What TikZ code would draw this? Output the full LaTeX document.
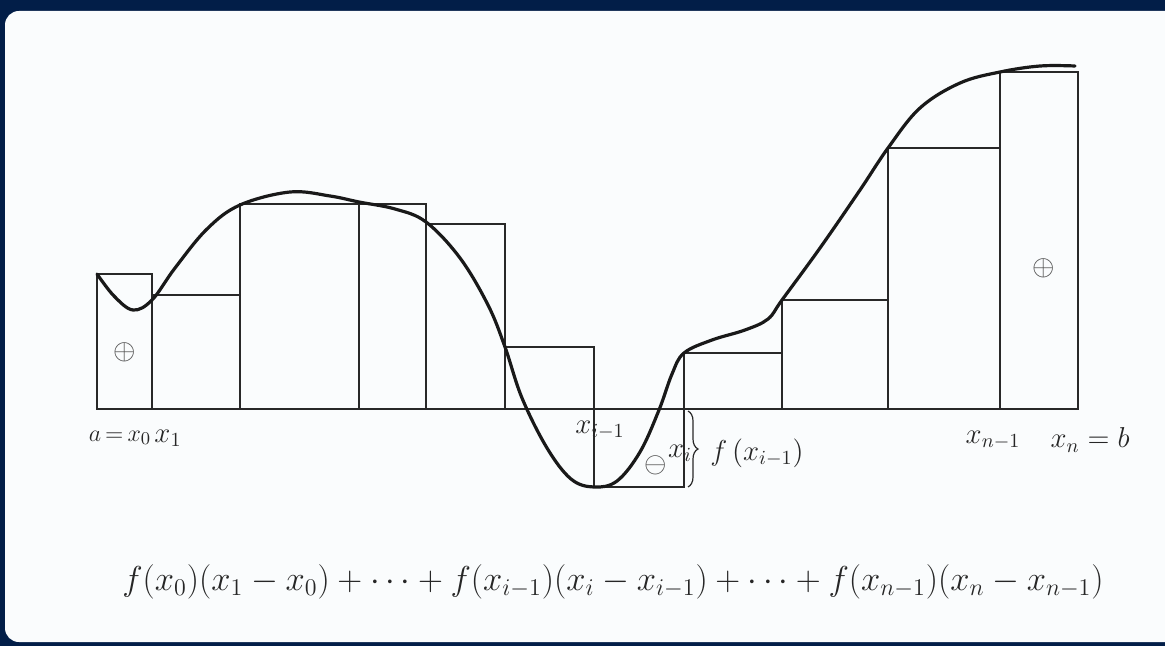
\documentclass[tikz,border=0pt]{standalone}
\usetikzlibrary{decorations.pathreplacing}
\definecolor{navy}{RGB}{2,30,72}
\definecolor{paper}{RGB}{250,252,253}
\definecolor{ink}{RGB}{40,40,40}
\begin{document}
\begin{tikzpicture}[x=0.5pt,y=-0.5pt,
  bar/.style={draw=ink,line width=0.7pt},
  curve/.style={draw=black!90,line width=1.6pt,line cap=round,line join=round},
  lbl/.style={inner sep=0pt,font=\fontsize{14}{16}\selectfont,text=black!85},
  sign/.style={inner sep=0pt,font=\fontsize{14}{16}\selectfont,text=black!70}]
\useasboundingbox (0,0) rectangle (1165,646);
\fill[navy] (0,0) rectangle (1165,646);
\fill[paper,rounded corners=7pt] (5,11) rectangle (1190,642);
% rectangles of the Riemann sum
\draw[bar] (97,409) rectangle (152,274);
\draw[bar] (152,409) rectangle (240,295);
\draw[bar] (240,409) rectangle (359,204);
\draw[bar] (359,409) rectangle (426,204);
\draw[bar] (426,409) rectangle (505,224);
\draw[bar] (505,409) rectangle (594,347);
\draw[bar] (594,409) rectangle (684,487);
\draw[bar] (684,409) rectangle (782,353);
\draw[bar] (782,409) rectangle (888,300);
\draw[bar] (888,409) rectangle (1000,148);
\draw[bar] (1000,409) rectangle (1078,72);
% the function
\draw[curve] plot[smooth,tension=0.6] coordinates {
 (97,274) (114,296) (133,310) (152,300) (175,268) (207,229) (240,205)
 (290,192) (330,196) (359,202) (395,209) (426,222) (460,258) (488,305)
 (505,347) (522,398) (547,448) (571,479) (594,487) (617,481) (640,452)
 (659,410) (672,374) (684,353) (712,340) (745,330) (768,319) (782,300)
 (820,248) (860,190) (888,148) (920,108) (960,83) (1000,72) (1040,66) (1075,66)};
% brace
\coordinate (bt) at (688,411);
\coordinate (bb) at (688,487);
\draw[ink,line width=0.6pt,decorate,decoration={brace,amplitude=5pt}] (bt) -- (bb);
% labels
\node[lbl,font=\fontsize{12.5}{14}\selectfont] (la) at (120,438) {$a\,{=}\,x_0$};
\node[lbl] (l1) at (168,438) {$x_1$};
\node[lbl] (lim) at (600,430) {$x_{i-1}$};
\node[lbl] (li) at (680,453) {$x_i$};
\node[lbl,anchor=west] (lf) at (710,453) {$f\,(x_{i-1})$};
\node[lbl] (lnm) at (993,440) {$x_{n-1}$};
\node[lbl] (ln) at (1090,440) {$x_n = b$};
\node[sign] (p1) at (125,352) {$\oplus$};
\node[sign] (p2) at (1044,268) {$\oplus$};
\node[sign] (m1) at (656,465) {$\ominus$};
\node[inner sep=0pt,font=\fontsize{17}{20}\selectfont,text=black!85] (sum) at (613,582)
 {$f(x_0)(x_1-x_0)+\cdots+f(x_{i-1})(x_i-x_{i-1})+\cdots+f(x_{n-1})(x_n-x_{n-1})$};
\end{tikzpicture}
\end{document}
